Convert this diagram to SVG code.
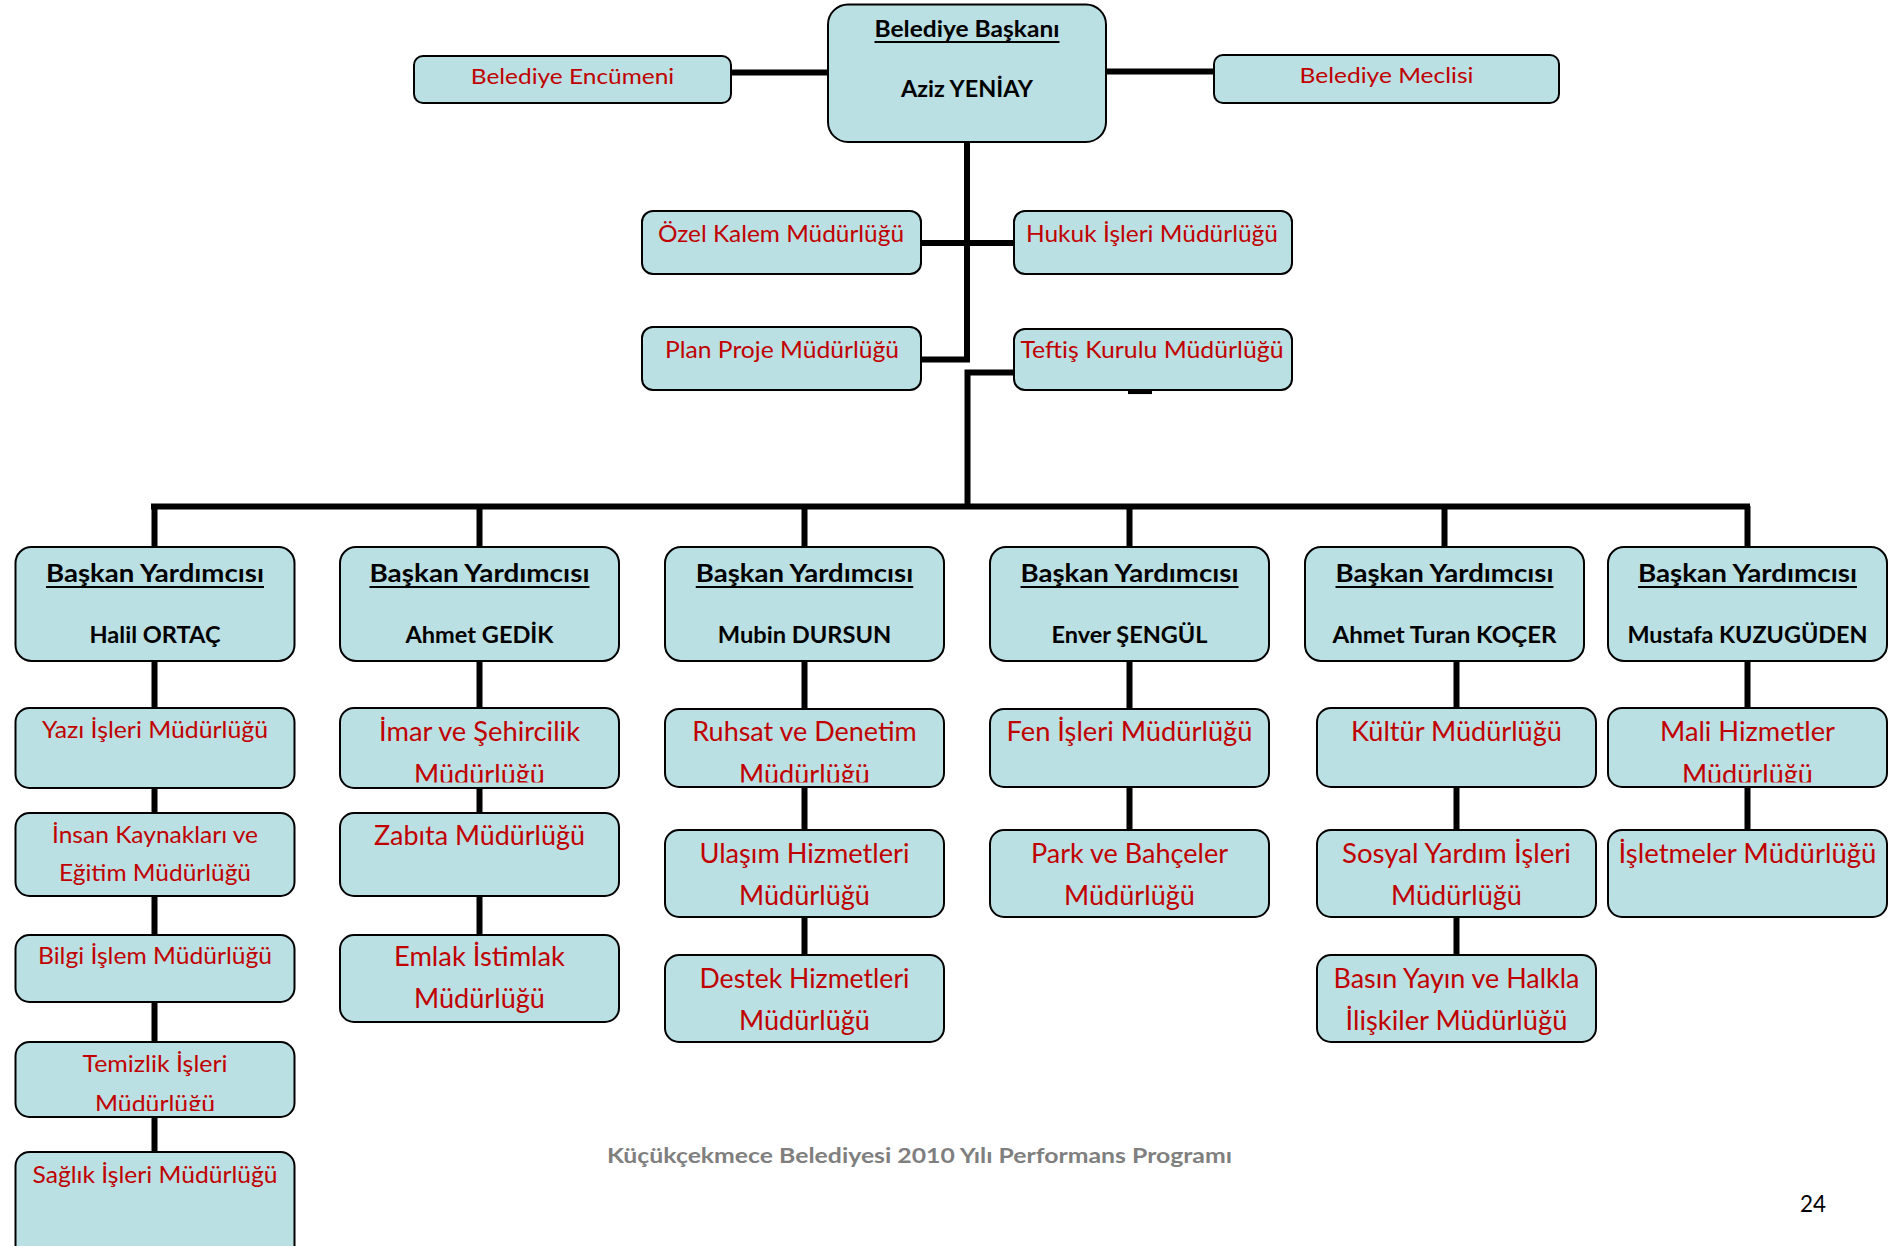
<svg xmlns="http://www.w3.org/2000/svg" width="1902" height="1246" viewBox="0 0 1902 1246">
<style>
.box{fill:#bae0e3;stroke:#000;stroke-width:2}
.t{font-family:Lato,'Open Sans','Liberation Sans',sans-serif;text-anchor:middle}
.red{fill:#c00000;font-size:24px}
.red2{fill:#c00000;font-size:26px}
.red3{fill:#c00000;font-size:22px}
.hd{fill:#000;font-weight:bold;font-size:25px}
.nm{fill:#000;font-weight:bold;font-size:23px}
.ul{stroke:#000;stroke-width:2.2}
.conn path{fill:none;stroke:#000;stroke-width:6}
.foot{fill:#7f7f7f;font-weight:bold;font-size:20.5px}
</style>
<defs>
<clipPath id="c1"><rect x="340" y="700" width="280" height="82.5"/></clipPath>
<clipPath id="c3"><rect x="665" y="700" width="280" height="82.5"/></clipPath>
<clipPath id="c6"><rect x="1608" y="700" width="280" height="82.5"/></clipPath>
<clipPath id="c7"><rect x="15" y="1040" width="280" height="71"/></clipPath>
</defs>
<rect width="1902" height="1246" fill="#fff"/>

<g id="connectors" class="conn">
<path d="M731 72.5H828"/>
<path d="M1106 71.5H1214" />
<path d="M967 142V362"/>
<path d="M920 243H1014"/>
<path d="M920 359.5H970"/>
<path d="M1014 372.5H967.5V506"/>
<path d="M1128 392.3H1152" style="stroke-width:3.5"/>
<path d="M151 506.5H1750"/>
<path d="M154.5 506V547M479.5 506V547M804.5 506V547M1129.5 506V547M1444.5 506V547M1747.5 506V547"/>
<path d="M154.5 661V708M154.5 788V813M154.5 896V935M154.5 1002V1042M154.5 1117V1152"/>
<path d="M479.5 661V708M479.5 788V813M479.5 896V935"/>
<path d="M804.5 661V709M804.5 787V830M804.5 917V955"/>
<path d="M1129.5 661V709M1129.5 787V830"/>
<path d="M1456.5 661V708M1456.5 787V830M1456.5 917V955"/>
<path d="M1747.5 661V708M1747.5 787V830"/>
</g>

<g id="mayor">
<rect class="box" x="828" y="4.5" width="278" height="137.5" rx="20"/>
<text class="t hd" x="967" y="37" style="font-size:22px" textLength="185" lengthAdjust="spacingAndGlyphs">Belediye Başkanı</text>
<line class="ul" x1="874.5" y1="42" x2="1059.5" y2="42"/>
<text class="t nm" x="967" y="96.5" textLength="132" lengthAdjust="spacingAndGlyphs">Aziz YENİAY</text>
</g>
<g id="encumen">
<rect class="box" x="414" y="56" width="317" height="47" rx="9"/>
<text class="t red3" x="572.5" y="84" textLength="203.5" lengthAdjust="spacingAndGlyphs">Belediye Encümeni</text>
</g>
<g id="meclis">
<rect class="box" x="1214" y="55" width="345" height="48" rx="9"/>
<text class="t red3" x="1386.5" y="83" textLength="174" lengthAdjust="spacingAndGlyphs">Belediye Meclisi</text>
</g>
<g id="ozel-kalem">
<rect class="box" x="642" y="211" width="279" height="63" rx="11"/>
<text class="t red" x="781" y="242" textLength="246" lengthAdjust="spacingAndGlyphs">Özel Kalem Müdürlüğü</text>
</g>
<g id="hukuk">
<rect class="box" x="1014" y="211" width="278" height="63" rx="11"/>
<text class="t red" x="1152" y="242" textLength="252" lengthAdjust="spacingAndGlyphs">Hukuk İşleri Müdürlüğü</text>
</g>
<g id="plan-proje">
<rect class="box" x="642" y="327" width="279" height="63" rx="11"/>
<text class="t red" x="782" y="358" textLength="234" lengthAdjust="spacingAndGlyphs">Plan Proje Müdürlüğü</text>
</g>
<g id="teftis">
<rect class="box" x="1014" y="329" width="278" height="61" rx="11"/>
<text class="t red" x="1152" y="358" textLength="263" lengthAdjust="spacingAndGlyphs">Teftiş Kurulu Müdürlüğü</text>
</g>

<g id="vp1">
<rect class="box" x="15.5" y="547" width="279" height="114" rx="16"/>
<text class="t hd" x="155" y="581.5" textLength="218" lengthAdjust="spacingAndGlyphs">Başkan Yardımcısı</text>
<line class="ul" x1="46" y1="587" x2="264" y2="587"/>
<text class="t nm" x="155" y="642.5" textLength="131" lengthAdjust="spacingAndGlyphs">Halil ORTAÇ</text>
</g>
<g id="vp2">
<rect class="box" x="340" y="547" width="279" height="114" rx="16"/>
<text class="t hd" x="479.5" y="581.5" textLength="220" lengthAdjust="spacingAndGlyphs">Başkan Yardımcısı</text>
<line class="ul" x1="369.5" y1="587" x2="589.5" y2="587"/>
<text class="t nm" x="479.5" y="642.5" textLength="148" lengthAdjust="spacingAndGlyphs">Ahmet GEDİK</text>
</g>
<g id="vp3">
<rect class="box" x="665" y="547" width="279" height="114" rx="16"/>
<text class="t hd" x="804.5" y="581.5" textLength="217.5" lengthAdjust="spacingAndGlyphs">Başkan Yardımcısı</text>
<line class="ul" x1="695.75" y1="587" x2="913.25" y2="587"/>
<text class="t nm" x="804.5" y="642.5" textLength="173.5" lengthAdjust="spacingAndGlyphs">Mubin DURSUN</text>
</g>
<g id="vp4">
<rect class="box" x="990" y="547" width="279" height="114" rx="16"/>
<text class="t hd" x="1129.5" y="581.5" textLength="218" lengthAdjust="spacingAndGlyphs">Başkan Yardımcısı</text>
<line class="ul" x1="1020.5" y1="587" x2="1238.5" y2="587"/>
<text class="t nm" x="1129.5" y="642.5" textLength="156" lengthAdjust="spacingAndGlyphs">Enver ŞENGÜL</text>
</g>
<g id="vp5">
<rect class="box" x="1305" y="547" width="279" height="114" rx="16"/>
<text class="t hd" x="1444.5" y="581.5" textLength="218" lengthAdjust="spacingAndGlyphs">Başkan Yardımcısı</text>
<line class="ul" x1="1335.5" y1="587" x2="1553.5" y2="587"/>
<text class="t nm" x="1444.5" y="642.5" textLength="224" lengthAdjust="spacingAndGlyphs">Ahmet Turan KOÇER</text>
</g>
<g id="vp6">
<rect class="box" x="1608" y="547" width="279" height="114" rx="16"/>
<text class="t hd" x="1747.5" y="581.5" textLength="219" lengthAdjust="spacingAndGlyphs">Başkan Yardımcısı</text>
<line class="ul" x1="1638" y1="587" x2="1857" y2="587"/>
<text class="t nm" x="1747.5" y="642.5" textLength="240" lengthAdjust="spacingAndGlyphs">Mustafa KUZUGÜDEN</text>
</g>

<g id="yazi-isleri">
<rect class="box" x="15.5" y="708" width="279" height="80" rx="14"/>
<text class="t red" x="155" y="738" textLength="226" lengthAdjust="spacingAndGlyphs">Yazı İşleri Müdürlüğü</text>
</g>
<g id="insan-kaynaklari">
<rect class="box" x="15.5" y="813" width="279" height="83" rx="14"/>
<text class="t red" x="155" y="843" style="font-size:23px" textLength="206" lengthAdjust="spacingAndGlyphs">İnsan Kaynakları ve</text>
<text class="t red" x="155" y="881" style="font-size:23px" textLength="192" lengthAdjust="spacingAndGlyphs">Eğitim Müdürlüğü</text>
</g>
<g id="bilgi-islem">
<rect class="box" x="15.5" y="935" width="279" height="67" rx="14"/>
<text class="t red" x="155" y="964" textLength="234" lengthAdjust="spacingAndGlyphs">Bilgi İşlem Müdürlüğü</text>
</g>
<g id="temizlik">
<rect class="box" x="15.5" y="1042" width="279" height="75" rx="14"/>
<text class="t red" x="155" y="1071.5" style="font-size:23px" textLength="145" lengthAdjust="spacingAndGlyphs">Temizlik İşleri</text>
<text class="t red" x="155" y="1112" style="font-size:23px" clip-path="url(#c7)" textLength="120" lengthAdjust="spacingAndGlyphs">Müdürlüğü</text>
</g>
<g id="saglik">
<rect class="box" x="15.5" y="1152" width="279" height="112" rx="14"/>
<text class="t red" x="155" y="1182.5" textLength="245" lengthAdjust="spacingAndGlyphs">Sağlık İşleri Müdürlüğü</text>
</g>

<g id="imar">
<rect class="box" x="340" y="708" width="279" height="80" rx="14"/>
<text class="t red2" x="479.5" y="741" textLength="201" lengthAdjust="spacingAndGlyphs">İmar ve Şehircilik</text>
<text class="t red2" x="479.5" y="784" clip-path="url(#c1)" textLength="131" lengthAdjust="spacingAndGlyphs">Müdürlüğü</text>
</g>
<g id="zabita">
<rect class="box" x="340" y="813" width="279" height="83" rx="14"/>
<text class="t red2" x="479.5" y="845" textLength="211" lengthAdjust="spacingAndGlyphs">Zabıta Müdürlüğü</text>
</g>
<g id="emlak">
<rect class="box" x="340" y="935" width="279" height="87" rx="14"/>
<text class="t red2" x="479.5" y="966" textLength="171" lengthAdjust="spacingAndGlyphs">Emlak İstimlak</text>
<text class="t red2" x="479.5" y="1007.5" textLength="131" lengthAdjust="spacingAndGlyphs">Müdürlüğü</text>
</g>

<g id="ruhsat">
<rect class="box" x="665" y="709" width="279" height="78" rx="14"/>
<text class="t red2" x="804.5" y="741" textLength="224.5" lengthAdjust="spacingAndGlyphs">Ruhsat ve Denetim</text>
<text class="t red2" x="804.5" y="784" clip-path="url(#c3)" textLength="131" lengthAdjust="spacingAndGlyphs">Müdürlüğü</text>
</g>
<g id="ulasim">
<rect class="box" x="665" y="830" width="279" height="87" rx="14"/>
<text class="t red2" x="804.5" y="863" textLength="210" lengthAdjust="spacingAndGlyphs">Ulaşım Hizmetleri</text>
<text class="t red2" x="804.5" y="905" textLength="131" lengthAdjust="spacingAndGlyphs">Müdürlüğü</text>
</g>
<g id="destek">
<rect class="box" x="665" y="955" width="279" height="87" rx="14"/>
<text class="t red2" x="804.5" y="988" textLength="210" lengthAdjust="spacingAndGlyphs">Destek Hizmetleri</text>
<text class="t red2" x="804.5" y="1030" textLength="131" lengthAdjust="spacingAndGlyphs">Müdürlüğü</text>
</g>

<g id="fen">
<rect class="box" x="990" y="709" width="279" height="78" rx="14"/>
<text class="t red2" x="1129.5" y="741" textLength="246" lengthAdjust="spacingAndGlyphs">Fen İşleri Müdürlüğü</text>
</g>
<g id="park">
<rect class="box" x="990" y="830" width="279" height="87" rx="14"/>
<text class="t red2" x="1129.5" y="863" textLength="197" lengthAdjust="spacingAndGlyphs">Park ve Bahçeler</text>
<text class="t red2" x="1129.5" y="905" textLength="131" lengthAdjust="spacingAndGlyphs">Müdürlüğü</text>
</g>

<g id="kultur">
<rect class="box" x="1317" y="708" width="279" height="79" rx="14"/>
<text class="t red2" x="1456.5" y="741" textLength="211" lengthAdjust="spacingAndGlyphs">Kültür Müdürlüğü</text>
</g>
<g id="sosyal">
<rect class="box" x="1317" y="830" width="279" height="87" rx="14"/>
<text class="t red2" x="1456.5" y="863" textLength="229" lengthAdjust="spacingAndGlyphs">Sosyal Yardım İşleri</text>
<text class="t red2" x="1456.5" y="905" textLength="131" lengthAdjust="spacingAndGlyphs">Müdürlüğü</text>
</g>
<g id="basin">
<rect class="box" x="1317" y="955" width="279" height="87" rx="14"/>
<text class="t red2" x="1456.5" y="988" textLength="246" lengthAdjust="spacingAndGlyphs">Basın Yayın ve Halkla</text>
<text class="t red2" x="1456.5" y="1030" textLength="222" lengthAdjust="spacingAndGlyphs">İlişkiler Müdürlüğü</text>
</g>

<g id="mali">
<rect class="box" x="1608" y="708" width="279" height="79" rx="14"/>
<text class="t red2" x="1747.5" y="741" textLength="175" lengthAdjust="spacingAndGlyphs">Mali Hizmetler</text>
<text class="t red2" x="1747.5" y="784" clip-path="url(#c6)" textLength="131" lengthAdjust="spacingAndGlyphs">Müdürlüğü</text>
</g>
<g id="isletmeler">
<rect class="box" x="1608" y="830" width="279" height="87" rx="14"/>
<text class="t red2" x="1747.5" y="863" textLength="258" lengthAdjust="spacingAndGlyphs">İşletmeler Müdürlüğü</text>
</g>

<text class="t foot" x="919.5" y="1163" textLength="625" lengthAdjust="spacingAndGlyphs">Küçükçekmece Belediyesi 2010 Yılı Performans Programı</text>
<text class="t" x="1813" y="1212" style="font-size:24px;fill:#000" textLength="26" lengthAdjust="spacingAndGlyphs">24</text>
</svg>
